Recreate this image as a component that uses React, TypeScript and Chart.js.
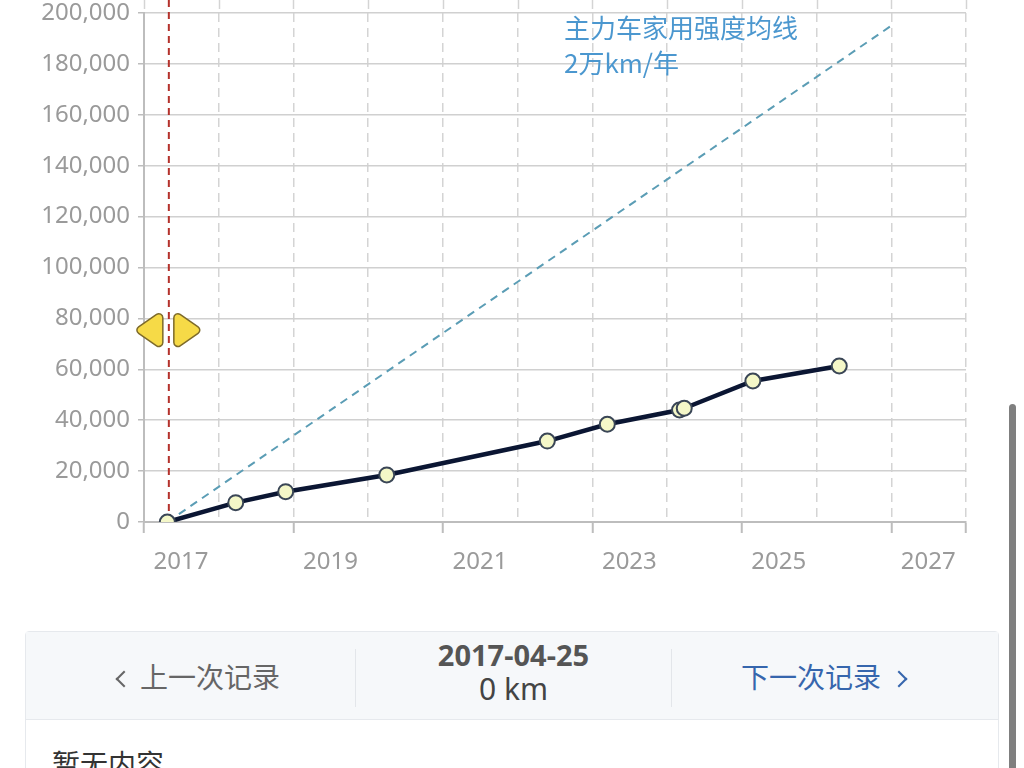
import React, { useEffect, useRef } from 'react';
import { Chart, registerables } from 'chart.js';

Chart.register(...registerables);

// ---- data ----
const RECORD_DATES = ['2017-04-25', '2018-03-25', '2018-11-24', '2020-04-01', '2022-05-26', '2023-03-15', '2024-03-02', '2024-03-25', '2025-02-24', '2026-04-22'];
const RECORD_KM = [0, 7600, 11900, 18500, 31800, 38400, 44000, 44700, 55400, 61300];
const BASELINE_DATES = ['2017-04-25', '2027-01-01'];
const BASELINE_KM = [0, 195000];
const X_MIN_YEAR = 2017;
const X_MAX_YEAR = 2028;
const X_LABEL_YEARS = [2017, 2019, 2021, 2023, 2025, 2027];
const Y_MAX = 200000;
const Y_STEP = 20000;
const SELECTED_DATE = '2017-04-25';
const SELECTED_KM = 0;
const BASELINE_TEXT = ['主力车家用强度均线', '2万km/年'];

function toYear(d: string): number {
  const [y, m, dd] = d.split('-').map(Number);
  const start = Date.UTC(y, 0, 1);
  const end = Date.UTC(y + 1, 0, 1);
  return y + (Date.UTC(y, m - 1, dd) - start) / (end - start);
}

function roundedTri(ctx: CanvasRenderingContext2D, pts: number[][], r: number) {
  const n = pts.length;
  ctx.beginPath();
  const mid = (a: number[], b: number[]) => [(a[0] + b[0]) / 2, (a[1] + b[1]) / 2];
  const start = mid(pts[n - 1], pts[0]);
  ctx.moveTo(start[0], start[1]);
  for (let i = 0; i < n; i++) {
    const p = pts[i];
    const q = pts[(i + 1) % n];
    ctx.arcTo(p[0], p[1], q[0], q[1], r);
  }
  ctx.closePath();
}

const overlayPlugin = {
  id: 'overlay',
  beforeDatasetsDraw(chart: any) {
    const { ctx, chartArea, scales } = chart;
    const x = scales.x;
    ctx.save();
    ctx.strokeStyle = '#d4d4d4';
    ctx.lineWidth = 1.5;
    ctx.setLineDash([9, 6]);
    for (let yr = X_MIN_YEAR; yr <= X_MAX_YEAR; yr++) {
      const px = Math.round(x.getPixelForValue(yr)) + 0.5;
      ctx.beginPath();
      ctx.moveTo(px, 0);
      ctx.lineTo(px, chartArea.top);
      ctx.stroke();
    }
    const sx = x.getPixelForValue(toYear(SELECTED_DATE)) + 1.5;
    ctx.strokeStyle = '#b4322c';
    ctx.lineWidth = 2;
    ctx.setLineDash([7, 5]);
    ctx.beginPath();
    ctx.moveTo(sx, 0);
    ctx.lineTo(sx, chartArea.bottom);
    ctx.stroke();
    ctx.restore();
  },
  afterDatasetsDraw(chart: any) {
    const { ctx, chartArea, scales } = chart;
    const sx = scales.x.getPixelForValue(toYear(SELECTED_DATE)) + 1.5;
    const cy = chartArea.top + (chartArea.bottom - chartArea.top) * 0.623;
    ctx.save();
    ctx.fillStyle = '#f6da47';
    ctx.strokeStyle = '#7d6a2a';
    ctx.lineWidth = 1.5;
    roundedTri(ctx, [[sx - 6, cy - 20], [sx - 6, cy + 20], [sx - 35, cy]], 4);
    ctx.fill();
    ctx.stroke();
    roundedTri(ctx, [[sx + 5, cy - 20], [sx + 34, cy], [sx + 5, cy + 20]], 4);
    ctx.fill();
    ctx.stroke();
    ctx.restore();
  },
};

function MileageChart() {
  const ref = useRef<HTMLCanvasElement | null>(null);
  useEffect(() => {
    if (!ref.current) return;
    const chart = new Chart(ref.current, {
      type: 'line',
      data: {
        datasets: [
          {
            label: '里程',
            data: RECORD_DATES.map((d, i) => ({ x: toYear(d), y: RECORD_KM[i] })),
            borderColor: '#0b1633',
            borderWidth: 4.5,
            pointRadius: 7.5,
            pointBackgroundColor: '#f4f7c8',
            pointBorderColor: '#3a4656',
            pointBorderWidth: 2,
            tension: 0,
            order: 1,
          },
          {
            label: BASELINE_TEXT[0],
            data: BASELINE_DATES.map((d, i) => ({ x: toYear(d), y: BASELINE_KM[i] })),
            borderColor: '#5b9db5',
            borderWidth: 2,
            borderDash: [8, 6],
            pointRadius: 0,
            tension: 0,
            order: 2,
          },
        ],
      },
      options: {
        responsive: false,
        animation: false,
        layout: { padding: { top: 13, right: 58, left: 0, bottom: 0 } },
        plugins: { legend: { display: false }, tooltip: { enabled: false } },
        scales: {
          x: {
            type: 'linear',
            min: X_MIN_YEAR,
            max: X_MAX_YEAR,
            ticks: {
              stepSize: 1,
              autoSkip: false,
              maxRotation: 0,
              labelOffset: 37,
              padding: 15,
              color: '#9a9a9a',
              font: { size: 24, family: '"Noto Sans", sans-serif' },
              callback: (v: any) => (X_LABEL_YEARS.includes(Number(v)) ? String(v) : ''),
            },
            grid: {
              color: '#d4d4d4',
              lineWidth: 1.5,
              tickLength: 11,
              tickWidth: 2,
              tickColor: (c: any) => {
                const v = c.tick ? c.tick.value : 0;
                return v % 2 === 1 || v === X_MAX_YEAR ? '#bdbdbd' : 'rgba(0,0,0,0)';
              },
            },
            border: { display: true, color: '#bdbdbd', width: 2, dash: [9, 6] },
            afterFit: (s: any) => { s.height = 78; },
          },
          y: {
            min: 0,
            max: Y_MAX,
            ticks: {
              stepSize: Y_STEP,
              padding: 8,
              color: '#9a9a9a',
              font: { size: 24, lineHeight: 0.4, family: '"Noto Sans", sans-serif' },
              callback: (v: any) => Number(v).toLocaleString('en-US'),
            },
            grid: { color: '#d0d0d0', lineWidth: 1.5, tickLength: 6, tickColor: '#bdbdbd' },
            border: { display: true, color: '#bdbdbd', width: 2 },
            afterFit: (s: any) => { s.width = 144; },
          },
        },
      },
      plugins: [overlayPlugin],
    } as any);
    return () => chart.destroy();
  }, []);
  return <canvas ref={ref} width={1024} height={600} style={{ position: 'absolute', left: 0, top: 0 }} />;
}

const cjk = '"Noto Sans CJK SC", "Noto Sans", sans-serif';

function Chevron({ dir, color }: { dir: 'left' | 'right'; color: string }) {
  return (
    <span
      style={{
        display: 'inline-block',
        width: 10,
        height: 10,
        borderLeft: `2px solid ${color}`,
        borderBottom: `2px solid ${color}`,
        transform: dir === 'left' ? 'rotate(45deg)' : 'rotate(-135deg)',
        position: 'relative',
        top: -3,
      }}
    />
  );
}

export default function App() {
  const selIdx = RECORD_DATES.indexOf(SELECTED_DATE);
  return (
    <div style={{ position: 'fixed', inset: 0, background: '#fff', overflow: 'hidden' }}>
      <MileageChart />
      <div
        style={{
          position: 'absolute', left: 564, top: 9, color: '#4b97cf',
          fontFamily: cjk, fontSize: 26, lineHeight: '35px', whiteSpace: 'nowrap',
        }}
      >
        <div>{BASELINE_TEXT[0]}</div>
        <div>{BASELINE_TEXT[1]}</div>
      </div>
      <div
        style={{
          position: 'absolute', left: 25, top: 631, width: 972, height: 200,
          border: '1px solid #e6e9ed', borderRadius: 4, background: '#fff', fontFamily: cjk,
        }}
      >
        <div style={{ position: 'relative', height: 87, background: '#f6f8fa', borderBottom: '1px solid #e6e9ed' }}>
          <div style={{ position: 'absolute', left: 92, top: 24, fontSize: 28, lineHeight: '40px', color: '#666', whiteSpace: 'nowrap' }}>
            <Chevron dir="left" color="#666" />
            <span style={{ marginLeft: 10 }}>上一次记录</span>
          </div>
          <div style={{ position: 'absolute', left: 329, top: 17, width: 1, height: 58, background: '#e3e6ea' }} />
          <div style={{ position: 'absolute', left: 330, width: 315, top: 6, textAlign: 'center', color: '#555' }}>
            <div style={{ fontSize: 29, fontWeight: 700, lineHeight: '34px', fontFamily: '"Noto Sans", sans-serif' }}>{SELECTED_DATE}</div>
            <div style={{ fontSize: 30, lineHeight: '34px', color: '#444', fontFamily: '"Noto Sans", sans-serif' }}>{RECORD_KM[selIdx >= 0 ? selIdx : 0] ?? SELECTED_KM} km</div>
          </div>
          <div style={{ position: 'absolute', left: 645, top: 17, width: 1, height: 58, background: '#e3e6ea' }} />
          <div style={{ position: 'absolute', left: 715, top: 24, fontSize: 28, lineHeight: '40px', color: '#3666ad', whiteSpace: 'nowrap' }}>
            <span style={{ marginRight: 12 }}>下一次记录</span>
            <Chevron dir="right" color="#3666ad" />
          </div>
        </div>
        <div style={{ position: 'absolute', left: 26, top: 113, fontSize: 28, color: '#333', lineHeight: '36px' }}>暂无内容</div>
      </div>
      <div style={{ position: 'absolute', left: 1009, top: 404, width: 7, height: 400, background: '#7f7f7f', borderRadius: 4 }} />
    </div>
  );
}
